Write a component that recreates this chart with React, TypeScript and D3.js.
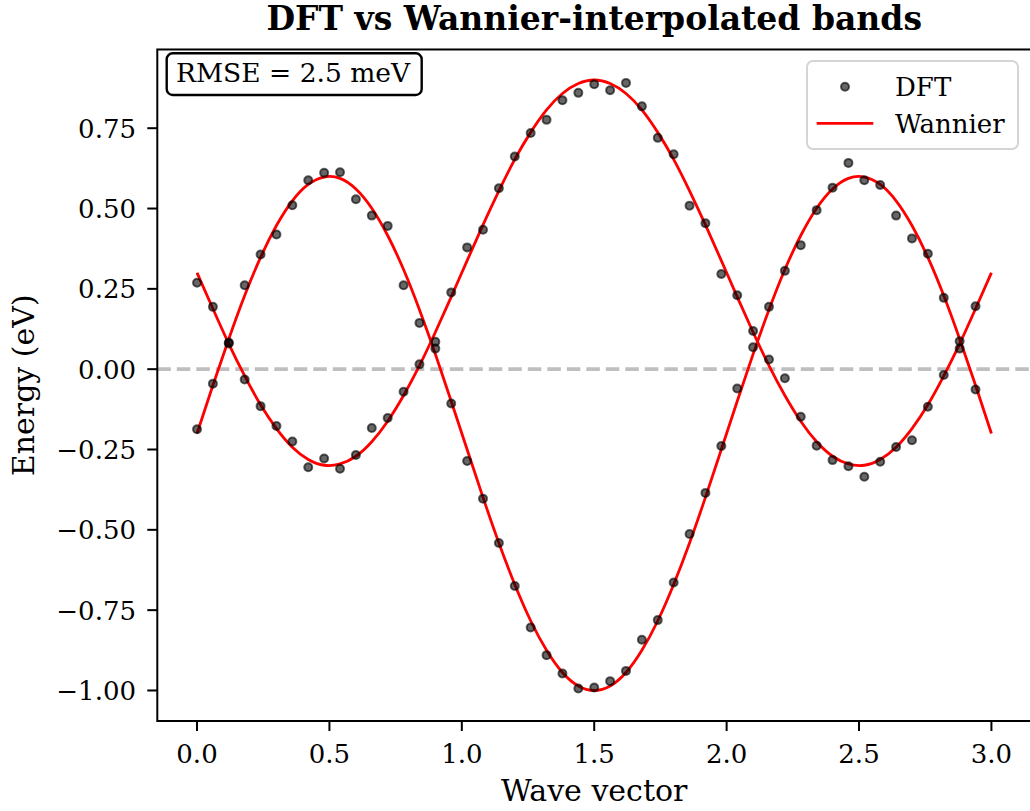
import React from "react";
import * as d3 from "d3";

// ---- data ----
const xTicks = [0.0, 0.5, 1.0, 1.5, 2.0, 2.5, 3.0];
const yTicks = [-1.0, -0.75, -0.5, -0.25, 0.0, 0.25, 0.5, 0.75];

// Wave-vector grid used by the Wannier curve (step 0.06, 0 … 3)
const wannierX = d3.range(0, 51).map((i) => +(i * 0.06).toFixed(2));
// DFT sampling grid (step 0.06, 0 … 2.94)
const dftX = d3.range(0, 50).map((i) => +(i * 0.06).toFixed(2));

const wannierBand1 = [
  0.300, 0.188, 0.079, -0.021, -0.111, -0.185, -0.243, -0.281, -0.299, -0.295,
  -0.271, -0.226, -0.162, -0.082, 0.011, 0.115, 0.225, 0.338, 0.449, 0.555,
  0.653, 0.737, 0.807, 0.858, 0.889, 0.900, 0.889, 0.858, 0.807, 0.737,
  0.653, 0.555, 0.449, 0.338, 0.225, 0.115, 0.011, -0.082, -0.162, -0.226,
  -0.271, -0.295, -0.299, -0.281, -0.243, -0.185, -0.111, -0.021, 0.079, 0.188,
  0.300,
];
const wannierBand2 = [
  -0.200, -0.050, 0.094, 0.229, 0.348, 0.447, 0.524, 0.575, 0.598, 0.594,
  0.561, 0.501, 0.416, 0.310, 0.185, 0.047, -0.100, -0.250, -0.399, -0.541,
  -0.670, -0.783, -0.875, -0.944, -0.986, -1.000, -0.986, -0.944, -0.875, -0.783,
  -0.670, -0.541, -0.399, -0.250, -0.100, 0.047, 0.185, 0.310, 0.416, 0.501,
  0.561, 0.594, 0.598, 0.575, 0.524, 0.447, 0.348, 0.229, 0.094, -0.050,
  -0.200,
];

const dftBand1 = [
  0.269, 0.194, 0.080, -0.032, -0.115, -0.177, -0.225, -0.305, -0.278, -0.310,
  -0.267, -0.183, -0.152, -0.070, 0.015, 0.085, 0.239, 0.379, 0.434, 0.563,
  0.662, 0.735, 0.776, 0.837, 0.860, 0.887, 0.868, 0.891, 0.818, 0.720,
  0.669, 0.509, 0.454, 0.296, 0.230, 0.119, 0.030, -0.028, -0.148, -0.238,
  -0.283, -0.302, -0.335, -0.288, -0.242, -0.221, -0.117, -0.018, 0.064, 0.196,
];
const dftBand2 = [
  -0.187, -0.045, 0.083, 0.261, 0.357, 0.419, 0.510, 0.588, 0.611, 0.613,
  0.529, 0.478, 0.446, 0.261, 0.144, 0.064, -0.107, -0.286, -0.403, -0.541,
  -0.675, -0.804, -0.890, -0.947, -0.994, -0.991, -0.971, -0.939, -0.842, -0.781,
  -0.664, -0.513, -0.385, -0.239, -0.060, 0.068, 0.194, 0.306, 0.386, 0.495,
  0.565, 0.642, 0.588, 0.573, 0.478, 0.407, 0.359, 0.222, 0.087, -0.063,
];

const titleText = "DFT vs Wannier-interpolated bands";
const xLabel = "Wave vector";
const yLabel = "Energy (eV)";
const rmseText = "RMSE = 2.5 meV";
const legendLabels = ["DFT", "Wannier"];

// ---- layout ----
const W = 1030;
const H = 811;
const FONT = "'DejaVu Serif', serif";
const left = 157.3;
const bottom = 721;
const x = d3.scaleLinear().domain([-0.15, 3.15]).range([left, left + 3.3 * 264.8]);
const y = d3.scaleLinear().domain([-1.095, 0.995]).range([bottom, bottom - 2.09 * 321.3]);
const top = y(0.995);
const right = x(3.15);

const fmtY = (v: number) => (v < 0 ? "\u2212" : "") + Math.abs(v).toFixed(2);
const fmtX = (v: number) => v.toFixed(1);

export default function App() {
  const line = d3
    .line<number>()
    .x((_, i) => x(wannierX[i]))
    .y((d) => y(d))
    .curve(d3.curveNatural);

  const dots = (band: number[], key: string) =>
    band.map((v, i) => (
      <circle
        key={key + i}
        cx={x(dftX[i])}
        cy={y(v)}
        r={4}
        fill="#000"
        fillOpacity={0.6}
        stroke="#000"
        strokeOpacity={0.6}
        strokeWidth={2}
      />
    ));

  return (
    <svg
      width={W}
      height={H}
      style={{ position: "absolute", left: 0, top: 0, background: "#fff" }}
      fontFamily={FONT}
    >
      <rect x={0} y={0} width={W} height={H} fill="#fff" />
      <defs>
        <clipPath id="plotClip">
          <rect x={left} y={top} width={right - left} height={bottom - top} />
        </clipPath>
      </defs>

      {/* zero line */}
      <line
        x1={left}
        x2={right}
        y1={y(0)}
        y2={y(0)}
        stroke="#bfbfbf"
        strokeWidth={3.8}
        strokeDasharray="13.5 6"
      />

      <g clipPath="url(#plotClip)">
        <path d={line(wannierBand1) || ""} fill="none" stroke="#ff0000" strokeWidth={2.8} />
        <path d={line(wannierBand2) || ""} fill="none" stroke="#ff0000" strokeWidth={2.8} />
        {dots(dftBand1, "a")}
        {dots(dftBand2, "b")}
      </g>

      {/* spines */}
      <rect
        x={left}
        y={top}
        width={right - left}
        height={bottom - top}
        fill="none"
        stroke="#000"
        strokeWidth={2}
      />

      {/* x ticks */}
      {xTicks.map((t) => (
        <g key={"xt" + t}>
          <line x1={x(t)} x2={x(t)} y1={bottom} y2={bottom + 10} stroke="#000" strokeWidth={2} />
          <text x={x(t)} y={763} fontSize={26} textAnchor="middle" fill="#000">
            {fmtX(t)}
          </text>
        </g>
      ))}
      {/* y ticks */}
      {yTicks.map((t) => (
        <g key={"yt" + t}>
          <line x1={left - 10} x2={left} y1={y(t)} y2={y(t)} stroke="#000" strokeWidth={2} />
          <text
            x={136}
            y={y(t)}
            dy="0.36em"
            fontSize={26}
            textAnchor="end"
            fill="#000"
          >
            {fmtY(t)}
          </text>
        </g>
      ))}

      {/* axis labels */}
      <text x={(left + right) / 2} y={801} fontSize={30} textAnchor="middle" fill="#000">
        {xLabel}
      </text>
      <text
        transform={`translate(34, ${(top + bottom) / 2}) rotate(-90)`}
        fontSize={30}
        textAnchor="middle"
        fill="#000"
      >
        {yLabel}
      </text>

      {/* title */}
      <text
        x={(left + right) / 2}
        y={30}
        fontSize={33}
        fontWeight="bold"
        textAnchor="middle"
        fill="#000"
      >
        {titleText}
      </text>

      {/* RMSE box */}
      <rect x={166.7} y={53.3} width={255} height={41.7} rx={6} fill="#fff" stroke="#000" strokeWidth={2.4} />
      <text x={176} y={82} fontSize={26.5} fill="#000">
        {rmseText}
      </text>

      {/* legend */}
      <rect
        x={807}
        y={61}
        width={211}
        height={88}
        rx={6}
        fill="#fff"
        fillOpacity={0.8}
        stroke="#d5d5d5"
        strokeWidth={2}
      />
      <circle cx={845} cy={86.7} r={4} fill="#000" fillOpacity={0.6} stroke="#000" strokeOpacity={0.6} strokeWidth={2} />
      <text x={895} y={86.7} dy="0.36em" fontSize={26} fill="#000">
        {legendLabels[0]}
      </text>
      <line x1={816.7} x2={873.3} y1={123.3} y2={123.3} stroke="#ff0000" strokeWidth={2.8} />
      <text x={895} y={123.3} dy="0.36em" fontSize={26} fill="#000">
        {legendLabels[1]}
      </text>
    </svg>
  );
}
